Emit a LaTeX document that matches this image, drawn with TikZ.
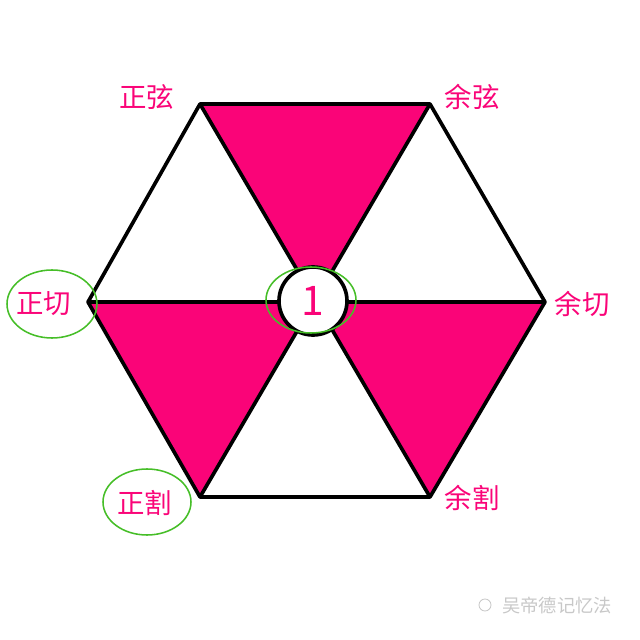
\documentclass[tikz,border=0pt]{standalone}
\usepackage{fontspec}
\newfontfamily\cjk{Noto Sans CJK SC}
\definecolor{hexpink}{RGB}{250,4,120}
\definecolor{ringgreen}{RGB}{70,190,40}
\definecolor{markgray}{RGB}{200,200,200}

\begin{document}
\begin{tikzpicture}[x=0.025cm,y=0.025cm,line join=round,
    edge/.style={line width=2.6pt},
    ring/.style={draw=ringgreen,line width=1.1pt},
    lbl/.style={text=hexpink,inner sep=0pt,font=\cjk\fontsize{19.5}{19.5}\selectfont}]
          \useasboundingbox (0,0) rectangle (640,640);
          % hexagon corners
          \coordinate (tl) at (200,536);
          \coordinate (tr) at (430,536);
          \coordinate (r) at (545,338);
          \coordinate (br) at (430,143);
          \coordinate (bl) at (200,143);
          \coordinate (l) at (88,338);
          \coordinate (c) at (315,338);
          % pink triangles
          \fill[hexpink] (tl) -- (tr) -- (c) -- cycle;
          \fill[hexpink] (l) -- (c) -- (bl) -- cycle;
          \fill[hexpink] (c) -- (r) -- (br) -- cycle;
          % outline and diagonals
          \draw[edge] (tl) -- (tr) -- (r) -- (br) -- (bl) -- (l) -- cycle;
          \draw[edge] (tl) -- (br);
          \draw[edge] (tr) -- (bl);
          \draw[edge] (l) -- (r);
          % centre
          \node[circle,fill=white,draw,line width=2.6pt,minimum size=68*0.025cm,inner sep=0pt,
            text=hexpink,font=\cjk\fontsize{29}{29}\selectfont] (one) at (313,339) {1};
          % labels
          \node[lbl] (sin) at (147,543) {正弦};
          \node[lbl] (cos) at (472,543) {余弦};
          \node[lbl] (tan) at (44,336) {正切};
          \node[lbl] (cot) at (582,336) {余切};
          \node[lbl] (sec) at (145,137) {正割};
          \node[lbl] (csc) at (472,142) {余割};
          % green rings
          \draw[ring] (311,340) ellipse (45 and 33);
          \draw[ring] (52,336) ellipse (45 and 34);
          \draw[ring] (147,138) ellipse (44 and 33);
          % watermark
          \node[text=markgray,inner sep=0pt,font=\cjk\fontsize{13}{13}\selectfont]
            (mark) at (557,34) {吴帝德记忆法};
          \draw[markgray,line width=0.6pt] (485,35) circle (6);
        \end{tikzpicture}
\end{document}
